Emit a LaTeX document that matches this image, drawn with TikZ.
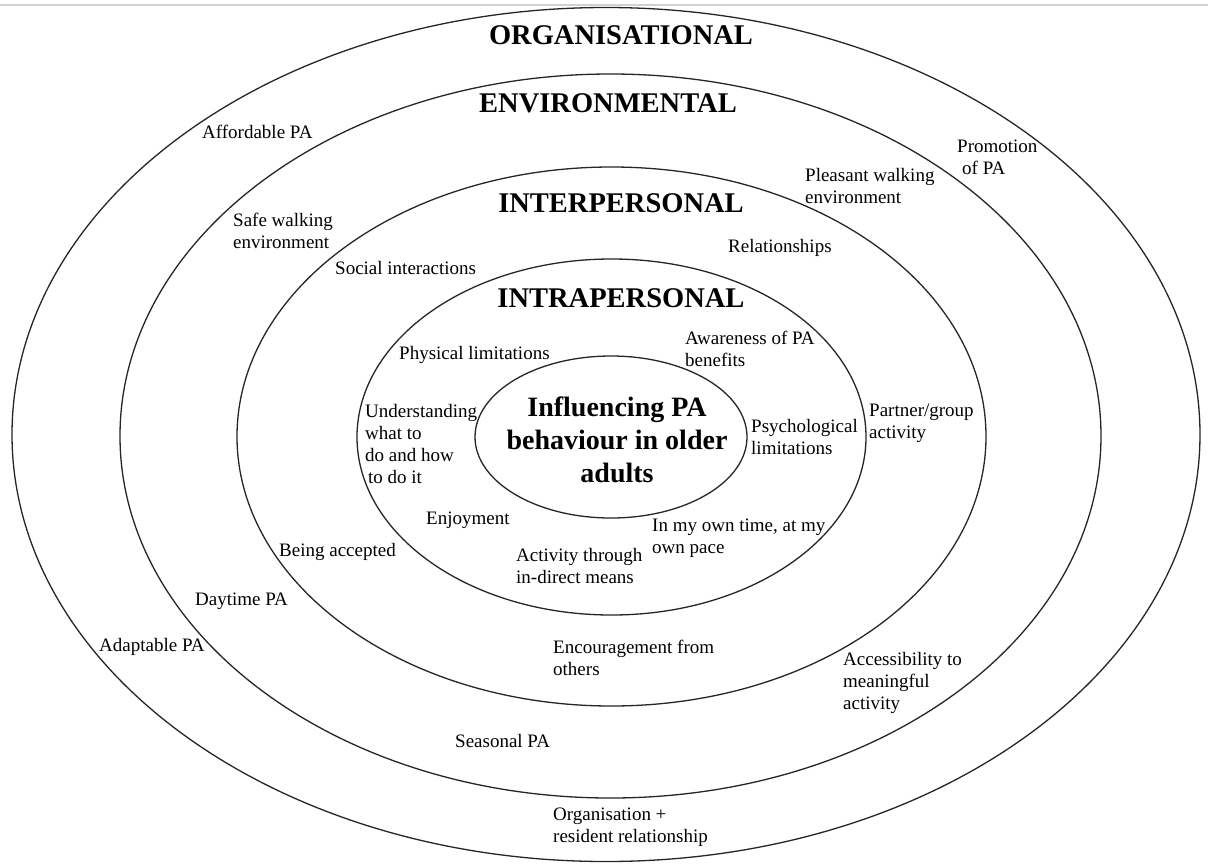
\documentclass[tikz,border=0pt]{standalone}
\usepackage{fontspec}
\setmainfont{Liberation Serif}
\begin{document}
\begin{tikzpicture}[x=1pt,y=-1pt,
  ring/.style={draw=black!85, line width=1.3pt},
  level/.style={font=\fontsize{28.5}{33}\selectfont\bfseries, inner sep=0pt},
  core/.style={font=\fontsize{28}{33}\selectfont\bfseries, align=center, inner sep=0pt},
  item/.style={font=\fontsize{19}{22}\selectfont, align=left, anchor=west, inner sep=0pt}]
\useasboundingbox (0,0) rectangle (1208,863);
\fill[white] (0,0) rectangle (1208,863);
% thin rule along the top edge
\draw[black!18, line width=2.5pt] (0,5) -- (1208,5);

% nested levels of influence
\draw[ring] (606,434.5) ellipse [x radius=594pt, y radius=427pt];
\draw[ring] (610.5,436) ellipse [x radius=490.5pt, y radius=362pt];
\draw[ring] (611.5,436.5) ellipse [x radius=374.5pt, y radius=269.5pt];
\draw[ring] (611.5,437) ellipse [x radius=254.5pt, y radius=178pt];
\draw[ring] (611,437) ellipse [x radius=136pt, y radius=81pt];

% level titles
\node[level] (org)   at (621,35)  {ORGANISATIONAL};
\node[level] (env)   at (608,103) {ENVIRONMENTAL};
\node[level] (inter) at (621,203) {INTERPERSONAL};
\node[level] (intra) at (621,298) {INTRAPERSONAL};
\node[core]  (centre) at (617,440) {Influencing PA\\behaviour in older\\adults};

% organisational factors
\node[item] (afford)  at (202,132) {Affordable PA};
\node[item] (promo)   at (957,157) {Promotion\\\hspace*{5pt}of PA};
\node[item] (adapt)   at (99,647)  {Adaptable PA};
\node[item] (orgres)  at (553,827) {Organisation +\\resident relationship};

% environmental factors
\node[item] (safe)     at (233,231) {Safe walking\\environment};
\node[item] (pleasant) at (805,186) {Pleasant walking\\environment};
\node[item] (daytime)  at (195,601) {Daytime PA};
\node[item] (access)   at (843,683) {Accessibility to\\meaningful\\activity};
\node[item] (seasonal) at (455,741) {Seasonal PA};

% interpersonal factors
\node[item] (social)   at (335,268) {Social interactions};
\node[item] (relation) at (728,248) {Relationships};
\node[item] (partner)  at (869,423) {Partner/group\\activity};
\node[item] (accepted) at (279,552) {Being accepted};
\node[item] (encour)   at (553,658) {Encouragement from\\others};

% intrapersonal factors
\node[item] (physical) at (399,355) {Physical limitations};
\node[item] (aware)    at (685,349) {Awareness of PA\\benefits};
\node[item] (underst)  at (365,444) {Understanding\\what to\\do and how\\\hspace*{3pt}to do it};
\node[item] (psych)    at (751,437) {Psychological\\limitations};
\node[item] (enjoy)    at (426,520) {Enjoyment};
\node[item] (owntime)  at (652,538) {In my own time, at my\\own pace};
\node[item] (indirect) at (516,566) {Activity through\\in-direct means};
\end{tikzpicture}
\end{document}
